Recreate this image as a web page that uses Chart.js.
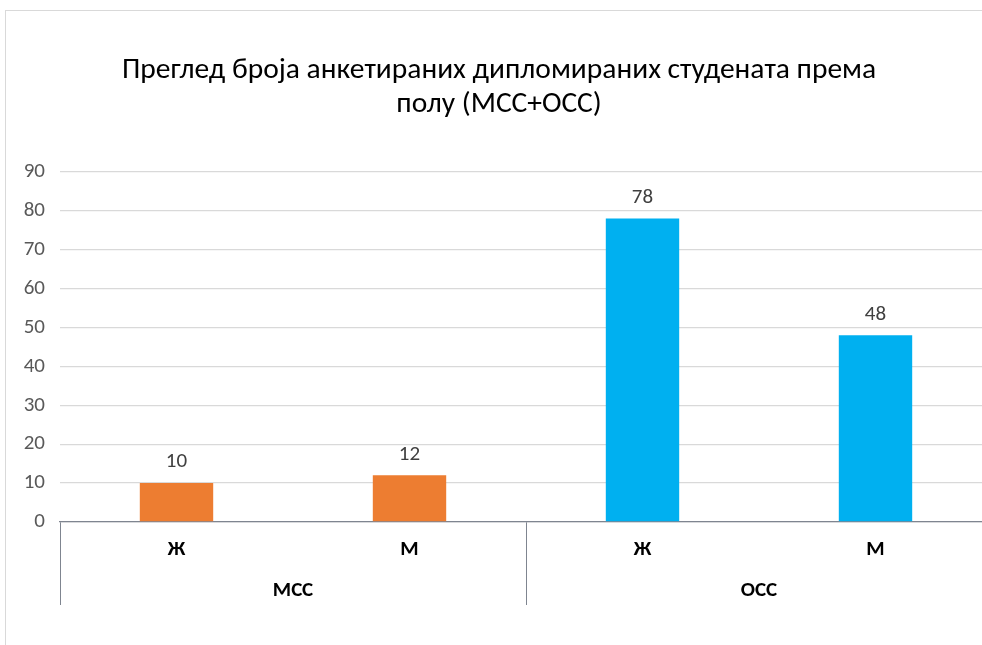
<!DOCTYPE html>
<html>
<head>
<meta charset="utf-8">
<script src="https://cdn.jsdelivr.net/npm/chart.js@4.4.0/dist/chart.umd.min.js"></script>
<style>
  html, body { margin: 0; padding: 0; background: #fff; overflow: hidden; }
  #box { position: absolute; left: 5px; top: 10px; width: 1000px; height: 650px; border: 1px solid #d9d9d9; }
  #myChart { display: block; }
</style>
</head>
<body>
<div id="box"><canvas id="myChart" width="1000" height="650"></canvas></div>
<script>
// data
var categories = ['Ж', 'М', 'Ж', 'М'];
var groups = ['МСС', 'ОСС'];
var values = [10, 12, 78, 48];
var barColors = ['#ED7D31', '#ED7D31', '#00B0F0', '#00B0F0'];
var yTicks = [0, 10, 20, 30, 40, 50, 60, 70, 80, 90];

var font = "Calibri, Carlito, 'Liberation Sans Narrow', 'Liberation Sans', sans-serif";

// value labels above bars
var barLabels = {
  id: 'barLabels',
  afterDatasetsDraw: function(chart) {
    var ctx = chart.ctx;
    var meta = chart.getDatasetMeta(0);
    ctx.save();
    ctx.font = '21px ' + font;
    ctx.fillStyle = '#404040';
    ctx.textAlign = 'center';
    ctx.textBaseline = 'middle';
    meta.data.forEach(function(bar, i) {
      ctx.fillText(values[i], bar.x, bar.y - 21);
    });
    ctx.restore();
  }
};

var ctx = document.getElementById('myChart').getContext('2d');
var myChart = new Chart(ctx, {
  type: 'bar',
  data: {
    labels: categories,
    datasets: [{
      data: values,
      backgroundColor: barColors,
      borderWidth: 0,
      categoryPercentage: 1,
      barPercentage: 0.315,
      xAxisID: 'x'
    }]
  },
  options: {
    responsive: false,
    animation: false,
    layout: { padding: { left: 0, right: 14, top: 0, bottom: 24 } },
    plugins: {
      legend: { display: false },
      tooltip: { enabled: false },
      title: {
        display: true,
        text: ['Преглед броја анкетираних дипломираних студената према', 'полу (МСС+ОСС)'],
        color: '#000',
        font: { family: font, size: 29.5, weight: 'normal', lineHeight: 1.15 },
        padding: { top: 43, bottom: 50 }
      }
    },
    scales: {
      y: {
        min: 0,
        max: 90,
        afterBuildTicks: function(scale) {
          scale.ticks = yTicks.map(function(v) { return { value: v }; });
        },
        afterFit: function(scale) { scale.width = 54; },
        border: { display: false },
        grid: { color: '#d9d9d9', lineWidth: 1.3, drawTicks: false },
        ticks: { color: '#595959', padding: 15, font: { family: font, size: 21 } }
      },
      x: {
        position: 'bottom',
        afterFit: function(scale) { scale.height = 55; },
        border: { display: true, color: '#7f8590', width: 1.3 },
        grid: {
          display: true,
          drawOnChartArea: false,
          offset: true,
          tickLength: 83,
          color: function(c) { return c.index % 2 === 0 ? '#7f8590' : 'rgba(0,0,0,0)'; }
        },
        ticks: { color: '#000', padding: -68, font: { family: font, size: 21, weight: 'bold' } }
      },
      x2: {
        type: 'category',
        position: 'bottom',
        labels: groups,
        offset: true,
        afterFit: function(scale) { scale.height = 60; },
        border: { display: false },
        grid: { display: false },
        ticks: { color: '#000', padding: -7, font: { family: font, size: 21, weight: 'bold' } }
      }
    }
  },
  plugins: [barLabels]
});
</script>
</body>
</html>
